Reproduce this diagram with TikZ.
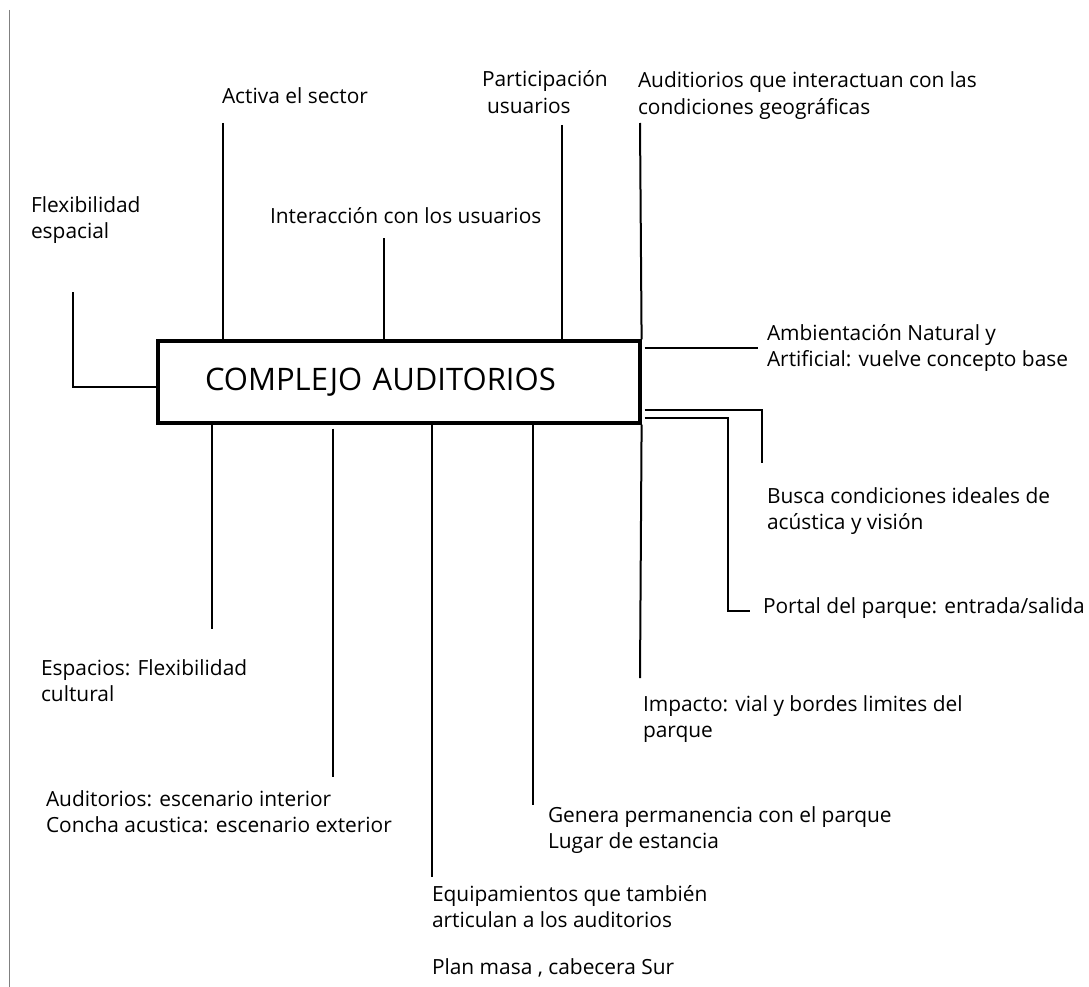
\documentclass[tikz,border=0pt]{standalone}
\usepackage{fontspec}
\setmainfont{Open Sans}
\usetikzlibrary{calc}
\newcommand{\lblfont}{\fontsize{20.9}{26.8}\selectfont}
\newcommand{\ttlfont}{\fontsize{31}{37}\selectfont}
\tikzset{
  lbl/.style={anchor=north west, inner sep=0pt, outer sep=0pt, align=left, font=\lblfont, yshift=18.76pt},
  conn/.style={draw=black, line width=2pt},
  mainbox/.style={draw=black, line width=3.2pt, minimum width=482pt, minimum height=82pt,
    text width=388pt, inner xsep=47pt, inner ysep=0pt, align=left, font=\ttlfont},
  frame/.style={draw=black!50, line width=1pt}
}
\begin{document}
\begin{tikzpicture}[x=1pt, y=-1pt]
\useasboundingbox (0,0) rectangle (1089,987);
\draw[frame] (9.5,10) -- (9.5,987);

% central box
\node[mainbox] (box) at (399,382) {COMPLEJO AUDITORIOS};

% labels
\node[lbl] (flex) at (31,212) {\strut Flexibilidad\\espacial};
\node[lbl] (act) at (222,104) {\strut Activa el sector};
\node[lbl] (inter) at (270,223) {\strut Interacción con los usuarios};
\node[lbl] (part) at (482,87) {\strut Participación\\\hspace*{5pt}usuarios};
\node[lbl] (geo) at (638,88) {\strut Auditiorios que interactuan con las\\condiciones geográficas};
\node[lbl] (amb) at (767,340) {\strut Ambientación Natural y\\Artificial: vuelve concepto base};
\node[lbl] (busca) at (767,503) {\strut Busca condiciones ideales de\\acústica y visión};
\node[lbl] (portal) at (763,613) {\strut Portal del parque: entrada/salida};
\node[lbl] (imp) at (643,711) {\strut Impacto: vial y bordes limites del\\parque};
\node[lbl] (gen) at (548,822) {\strut Genera permanencia con el parque\\Lugar de estancia};
\node[lbl] (equip) at (432,901) {\strut Equipamientos que también\\articulan a los auditorios};
\node[lbl] (plan) at (432,974) {\strut Plan masa , cabecera Sur};
\node[lbl] (esp) at (41,675) {\strut Espacios: Flexibilidad\\cultural};
\node[lbl] (escen) at (46,806) {\strut Auditorios: escenario interior\\Concha acustica: escenario exterior};

% free ends of connectors
\coordinate (cflex) at (73,292);
\coordinate (cact) at (223,123);
\coordinate (cinter) at (384,238);
\coordinate (cpart) at (562,125);
\coordinate (cgeo) at (640,123);
\coordinate (camb) at (758,348);
\coordinate (cbusca) at (762,463);
\coordinate (cbuscay) at (643,410);
\coordinate (cportal) at (750,611);
\coordinate (cportaly) at (643,418);
\coordinate (cportalx) at (728,418);
\coordinate (cimp) at (640,678);
\coordinate (cgen) at (533,805);
\coordinate (cequip) at (432,877);
\coordinate (cescen) at (333,777);
\coordinate (cesp) at (212,629);

% connectors
\draw[conn] (cflex) |- ($(box.west)+(0,5)$);
\draw[conn] (cact) -- (cact |- box.north);
\draw[conn] (cinter) -- (cinter |- box.north);
\draw[conn] (cpart) -- (cpart |- box.north);
\draw[conn] (cgeo) -- (box.north east);
\draw[conn] ($(box.east |- camb)+(3,0)$) -- (camb);
\draw[conn] ($(box.east |- cbuscay)+(3,0)$) -| (cbusca);
\draw[conn] ($(box.east |- cportaly)+(3,0)$) -- (cportalx) |- (cportal);
\draw[conn] (box.south east) -- (cimp);
\draw[conn] (cgen |- box.south) -- (cgen);
\draw[conn] (cequip |- box.south) -- (cequip);
\draw[conn] ($(cescen |- box.south)+(0,4)$) -- (cescen);
\draw[conn] (cesp |- box.south) -- (cesp);
\end{tikzpicture}
\end{document}
